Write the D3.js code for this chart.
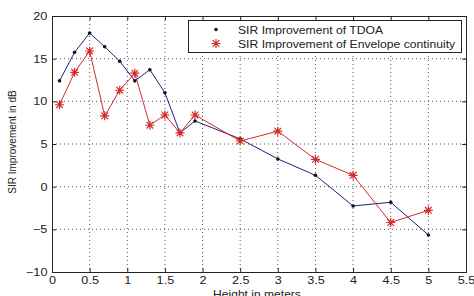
<!DOCTYPE html>
<html>
<head>
<meta charset="utf-8">
<script src="https://cdn.jsdelivr.net/npm/d3@7"></script>
<style>
  body { margin: 0; background: #fff; }
  text { font-family: "Liberation Sans", Arial, sans-serif; fill: #222; }
</style>
</head>
<body>
<script>
var width = 474, height = 296;

// chart data
var heights = [0.1, 0.3, 0.5, 0.7, 0.9, 1.1, 1.3, 1.5, 1.7, 1.9, 2.5, 3, 3.5, 4, 4.5, 5];
var tdoa = [12.4, 15.75, 18.0, 16.4, 14.7, 12.4, 13.7, 11.0, 6.3, 7.7, 5.6, 3.25, 1.33, -2.26, -1.83, -5.66];
var envelope = [9.6, 13.4, 15.9, 8.3, 11.3, 13.3, 7.2, 8.4, 6.3, 8.4, 5.35, 6.5, 3.2, 1.33, -4.2, -2.77];
var xTicks = [0, 0.5, 1, 1.5, 2, 2.5, 3, 3.5, 4, 4.5, 5, 5.5];
var yTicks = [-10, -5, 0, 5, 10, 15, 20];
var seriesNames = ["SIR Improvement of TDOA", "SIR Improvement of Envelope continuity"];

var margin = {left: 52, right: 8, top: 16, bottom: 24};

var svg = d3.select("body").append("svg")
    .attr("width", width)
    .attr("height", height);

var x = d3.scaleLinear().domain([0, 5.5]).range([margin.left, width - margin.right]);
var y = d3.scaleLinear().domain([-10, 20]).range([height - margin.bottom, margin.top]);

// dotted grid
svg.append("g").selectAll("line")
    .data(xTicks.slice(1, -1))
    .enter().append("line")
    .attr("x1", function (d) { return x(d); })
    .attr("x2", function (d) { return x(d); })
    .attr("y1", y(20)).attr("y2", y(-10))
    .attr("stroke", "#555").attr("stroke-width", 1)
    .attr("stroke-dasharray", "1,3");
svg.append("g").selectAll("line")
    .data(yTicks.slice(1, -1))
    .enter().append("line")
    .attr("y1", function (d) { return y(d); })
    .attr("y2", function (d) { return y(d); })
    .attr("x1", x(0)).attr("x2", x(5.5))
    .attr("stroke", "#555").attr("stroke-width", 1)
    .attr("stroke-dasharray", "1,3");

// axes (ticks inward, matlab box style)
var xAxis = svg.append("g")
    .attr("transform", "translate(0," + y(-10) + ")")
    .call(d3.axisBottom(x).tickValues(xTicks).tickSize(-4).tickPadding(4).tickFormat(d3.format("")));
var xTop = svg.append("g")
    .attr("transform", "translate(0," + y(20) + ")")
    .call(d3.axisTop(x).tickValues(xTicks).tickSize(-4).tickFormat(""));
var yAxis = svg.append("g")
    .attr("transform", "translate(" + x(0) + ",0)")
    .call(d3.axisLeft(y).tickValues(yTicks).tickSize(-4).tickPadding(4));
var yRight = svg.append("g")
    .attr("transform", "translate(" + x(5.5) + ",0)")
    .call(d3.axisRight(y).tickValues(yTicks).tickSize(-4).tickFormat(""));

[xAxis, xTop, yAxis, yRight].forEach(function (g) {
    g.select(".domain").attr("stroke", "#222");
    g.selectAll(".tick line").attr("stroke", "#222");
    g.selectAll("text").style("font-size", "11px").attr("fill", "#222")
        .attr("transform", "scale(1.15,1)");
});

// axis titles
svg.append("text")
    .attr("transform", "translate(" + ((x(0) + x(5.5)) / 2 - 2) + ",298) scale(1.15,1)")
    .attr("text-anchor", "middle")
    .style("font-size", "10.5px")
    .text("Height in meters");
svg.append("text")
    .attr("transform", "translate(16," + ((y(20) + y(-10)) / 2 - 2) + ") rotate(-90)")
    .attr("text-anchor", "middle")
    .style("font-size", "10px")
    .text("SIR Improvement in dB");

var line = d3.line()
    .x(function (d) { return x(d[0]); })
    .y(function (d) { return y(d[1]); });

var blue = "#1f1f80", red = "#d42a2a";
var tdoaPts = heights.map(function (h, i) { return [h, tdoa[i]]; });
var envPts = heights.map(function (h, i) { return [h, envelope[i]]; });

svg.append("path").datum(tdoaPts)
    .attr("d", line).attr("fill", "none").attr("stroke", blue).attr("stroke-width", 1);
svg.append("path").datum(envPts)
    .attr("d", line).attr("fill", "none").attr("stroke", red).attr("stroke-width", 1);

// matlab-style '*' marker: 8 thin arms
function asterisk(sel) {
    var r = 4.5, rd = 3.3;
    var p = "M" + (-r) + ",0L" + r + ",0M0," + (-r) + "L0," + r +
        "M" + (-rd) + "," + (-rd) + "L" + rd + "," + rd +
        "M" + (-rd) + "," + rd + "L" + rd + "," + (-rd);
    sel.append("path").attr("d", p).attr("stroke", red).attr("stroke-width", 1.2).attr("fill", "none");
}

svg.append("g").selectAll("circle")
    .data(tdoaPts)
    .enter().append("circle")
    .attr("cx", function (d) { return x(d[0]); })
    .attr("cy", function (d) { return y(d[1]); })
    .attr("r", 1.8).attr("fill", "#111");

svg.append("g").selectAll("g")
    .data(envPts)
    .enter().append("g")
    .attr("transform", function (d) { return "translate(" + x(d[0]) + "," + y(d[1]) + ")"; })
    .call(asterisk);

// legend
var lg = svg.append("g");
lg.append("rect")
    .attr("x", 188.5).attr("y", 20.5).attr("width", 273).attr("height", 32)
    .attr("fill", "#fff").attr("stroke", "#222");
lg.append("circle").attr("cx", 216).attr("cy", 29.5).attr("r", 1.8).attr("fill", "#111");
lg.append("g").attr("transform", "translate(216,43.5)").call(asterisk);
lg.selectAll("text")
    .data(seriesNames)
    .enter().append("text")
    .attr("transform", function (d, i) { return "translate(238," + (33.5 + i * 14) + ") scale(1.16,1)"; })
    .style("font-size", "10.5px")
    .text(function (d) { return d; });
</script>
</body>
</html>
